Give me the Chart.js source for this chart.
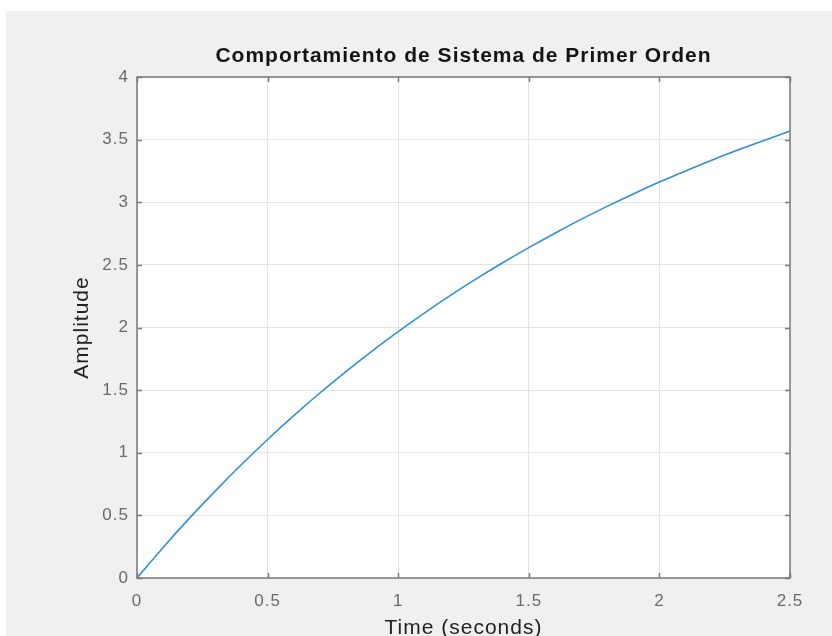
<!DOCTYPE html>
<html>
<head>
<meta charset="utf-8">
<script src="https://cdn.jsdelivr.net/npm/chart.js@4/dist/chart.umd.min.js"></script>
<style>
  html, body { margin: 0; padding: 0; background: #ffffff; overflow: hidden; width: 832px; height: 636px; }
  #fig { position: absolute; left: 6px; top: 11px; width: 826px; height: 625px; background: #f0f0f0; overflow: hidden; }
  #wrap { position: absolute; left: 0; top: 0; width: 826px; height: 640px; }
</style>
</head>
<body>
<div id="fig"><div id="wrap"><canvas id="c" width="826" height="640"></canvas></div></div>
<script>
// Data
const timeSeconds = [0, 0.1, 0.2, 0.3, 0.4, 0.5, 0.6, 0.7, 0.8, 0.9, 1.0, 1.1, 1.2, 1.3, 1.4, 1.5, 1.6, 1.7, 1.8, 1.9, 2.0, 2.1, 2.2, 2.3, 2.4, 2.5];
const amplitude   = [0, 0.244, 0.476, 0.696, 0.906, 1.106, 1.296, 1.477, 1.648, 1.812, 1.967, 2.115, 2.256, 2.390, 2.517, 2.638, 2.753, 2.863, 2.967, 3.066, 3.161, 3.250, 3.336, 3.417, 3.494, 3.568];
const xTickValues = [0, 0.5, 1, 1.5, 2, 2.5];
const yTickValues = [0, 0.5, 1, 1.5, 2, 2.5, 3, 3.5, 4];
const titleText = 'Comportamiento de Sistema de Primer Orden';
const xLabel = 'Time (seconds)';
const yLabel = 'Amplitude';

const FONT = '"Liberation Sans", Arial, Helvetica, sans-serif';
const AXIS_COLOR = '#7a7a7a';

const boxPlugin = {
  id: 'matlabBox',
  afterDraw(chart) {
    const {ctx, chartArea: a, scales: {x, y}} = chart;
    ctx.save();
    ctx.strokeStyle = AXIS_COLOR;
    ctx.lineWidth = 1.5;
    ctx.beginPath();
    const tl = 5;
    xTickValues.forEach(v => {
      const px = Math.round(x.getPixelForValue(v)) + 0.5;
      ctx.moveTo(px, a.bottom); ctx.lineTo(px, a.bottom - tl);
      ctx.moveTo(px, a.top); ctx.lineTo(px, a.top + tl);
    });
    yTickValues.forEach(v => {
      const py = Math.round(y.getPixelForValue(v)) + 0.5;
      ctx.moveTo(a.left, py); ctx.lineTo(a.left + tl, py);
      ctx.moveTo(a.right, py); ctx.lineTo(a.right - tl, py);
    });
    ctx.stroke();
    ctx.strokeRect(a.left, a.top, a.right - a.left, a.bottom - a.top);
    ctx.restore();
  }
};

const plotBg = {
  id: 'plotBg',
  beforeDraw(chart) {
    const {ctx, chartArea: a} = chart;
    ctx.letterSpacing = '1px';
    ctx.save();
    ctx.fillStyle = '#ffffff';
    ctx.fillRect(a.left, a.top, a.right - a.left, a.bottom - a.top);
    ctx.restore();
  }
};

const fmt = v => String(Number(v));

new Chart(document.getElementById('c'), {
  type: 'line',
  data: {
    datasets: [{
      data: timeSeconds.map((t, i) => ({x: t, y: amplitude[i]})),
      borderColor: '#3090d4',
      borderWidth: 1.6,
      pointRadius: 0,
      cubicInterpolationMode: 'monotone',
      fill: false
    }]
  },
  options: {
    responsive: false,
    animation: false,
    layout: { padding: { left: 0, right: 42, top: 0, bottom: 0 } },
    plugins: {
      legend: { display: false },
      tooltip: { enabled: false },
      title: {
        display: true,
        fullSize: false,
        text: titleText,
        color: '#141414',
        font: { family: FONT, size: 21, weight: 'bold', lineHeight: 1.2 },
        padding: { top: 32.4, bottom: 8.4 }
      }
    },
    scales: {
      x: {
        type: 'linear',
        min: 0, max: 2.5,
        afterBuildTicks(s) { s.ticks = xTickValues.map(v => ({value: v})); },
        afterFit(s) { s.height = 73; },
        grid: { color: '#e3e3e3', lineWidth: 1, drawTicks: false },
        border: { display: false },
        ticks: { color: '#6a6a6a', font: { family: FONT, size: 17 }, padding: 13, maxRotation: 0, callback: fmt },
        title: { display: true, text: xLabel, color: '#222222', font: { family: FONT, size: 21, lineHeight: 1.2 }, padding: { top: 0, bottom: 10.4 } }
      },
      y: {
        type: 'linear',
        min: 0, max: 4,
        afterBuildTicks(s) { s.ticks = yTickValues.map(v => ({value: v})); },
        afterFit(s) { s.width = 131; },
        grid: { color: '#e3e3e3', lineWidth: 1, drawTicks: false },
        border: { display: false },
        ticks: { color: '#6a6a6a', font: { family: FONT, size: 17 }, padding: 8, callback: fmt },
        title: { display: true, text: yLabel, color: '#222222', font: { family: FONT, size: 21, lineHeight: 1.2 }, padding: { top: 63.4, bottom: 0 } }
      }
    }
  },
  plugins: [plotBg, boxPlugin]
});
</script>
</body>
</html>
